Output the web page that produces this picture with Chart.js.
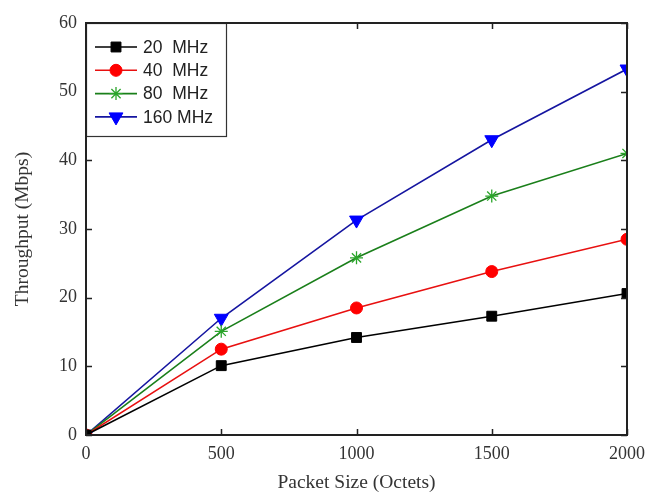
<!DOCTYPE html>
<html>
<head>
<meta charset="utf-8">
<script src="https://cdn.jsdelivr.net/npm/chart.js@4.4.1/dist/chart.umd.min.js"></script>
<style>
  html, body { margin: 0; padding: 0; background: #fff; }
  #wrap { width: 645px; height: 495px; }
</style>
</head>
<body>
<div id="wrap"><canvas id="chart" width="645" height="495"></canvas></div>
<script>
// Throughput vs packet size, per channel width

const packetSizes = [0, 500, 1000, 1500, 2000];
const mhz20 = [0, 10.1, 14.2, 17.3, 20.6];
const mhz40 = [0, 12.5, 18.5, 23.8, 28.5];
const mhz80 = [0, 15.1, 25.8, 34.8, 41.0];
const mhz160 = [0, 17.0, 31.3, 43.0, 53.3];
const seriesNames = ['20  MHz', '40  MHz', '80  MHz', '160 MHz'];
const xTicks = [0, 500, 1000, 1500, 2000];
const yTicks = [0, 10, 20, 30, 40, 50, 60];

const serif = '"Liberation Serif", "Times New Roman", serif';
const sans = '"Liberation Sans", Arial, sans-serif';

const styles = [
    { color: '#000000', point: 'rect', radius: 7, rotation: 0 },
    { color: '#ff0000', point: 'circle', radius: 6, rotation: 0 },
    { color: '#2aa52a', point: 'star', radius: 6.5, rotation: 0 },
    { color: '#0000ff', point: 'triangle', radius: 8, rotation: 180 }
];
const lineColors = ['#000000', '#e81010', '#1a7f1a', '#1515a0'];

function makeDataset(name, values, i) {
    const s = styles[i];
    return {
        label: name,
        data: packetSizes.map((x, j) => ({ x: x, y: values[j] })),
        borderColor: lineColors[i],
        backgroundColor: s.color,
        borderWidth: 1.6,
        pointStyle: s.point,
        pointRadius: s.radius,
        pointRotation: s.rotation,
        pointBackgroundColor: s.color,
        pointBorderColor: s.color,
        pointBorderWidth: i === 2 ? 1.3 : 1,
        tension: 0,
        clip: 0
    };
}

// frame, inward ticks on all four sides, and the boxed legend in the corner
const framePlugin = {
    id: 'frame',
    afterDatasetsDraw(chart) {
        const ctx = chart.ctx;
        const a = chart.chartArea;
        const xs = chart.scales.x, ys = chart.scales.y;
        ctx.save();
        ctx.strokeStyle = '#222';
        ctx.lineWidth = 1.5;
        const tl = 6;
        ctx.beginPath();
        xTicks.forEach(v => {
            const px = Math.round(xs.getPixelForValue(v)) + 0.5;
            ctx.moveTo(px, a.bottom); ctx.lineTo(px, a.bottom - tl);
            ctx.moveTo(px, a.top); ctx.lineTo(px, a.top + tl);
        });
        yTicks.forEach(v => {
            const py = Math.round(ys.getPixelForValue(v)) + 0.5;
            ctx.moveTo(a.left, py); ctx.lineTo(a.left + tl, py);
            ctx.moveTo(a.right, py); ctx.lineTo(a.right - tl, py);
        });
        ctx.stroke();

        // legend box
        const lx = a.left, ly = a.top, lw = 140, lh = 113;
        ctx.fillStyle = '#fff';
        ctx.fillRect(lx, ly, lw, lh);
        ctx.lineWidth = 1.2;
        ctx.strokeStyle = '#333';
        ctx.strokeRect(lx + 0.5, ly + 0.5, lw, lh);

        ctx.font = '17.5px ' + sans;
        ctx.textBaseline = 'middle';
        ctx.textAlign = 'left';
        seriesNames.forEach((name, i) => {
            const y = ly + 24 + i * 23.3;
            ctx.strokeStyle = lineColors[i];
            ctx.lineWidth = 1.6;
            ctx.beginPath();
            ctx.moveTo(lx + 9, y); ctx.lineTo(lx + 51, y);
            ctx.stroke();
            const s = styles[i];
            ctx.fillStyle = s.color;
            ctx.strokeStyle = s.color;
            ctx.lineWidth = i === 2 ? 1.3 : 1;
            Chart.helpers.drawPoint(ctx, {
                pointStyle: s.point, radius: s.radius, rotation: s.rotation, borderWidth: ctx.lineWidth
            }, lx + 30, y);
            ctx.fillStyle = '#222';
            ctx.fillText(name, lx + 57, y + 1);
        });

        // outer frame
        ctx.strokeStyle = '#222';
        ctx.lineWidth = 2;
        ctx.strokeRect(a.left, a.top, a.right - a.left, a.bottom - a.top);
        ctx.restore();
    }
};

const ctx = document.getElementById('chart').getContext('2d');
const chart = new Chart(ctx, {
    type: 'line',
    data: {
        datasets: [
            makeDataset(seriesNames[0], mhz20, 0),
            makeDataset(seriesNames[1], mhz40, 1),
            makeDataset(seriesNames[2], mhz80, 2),
            makeDataset(seriesNames[3], mhz160, 3)
        ]
    },
    options: {
        responsive: false,
        animation: false,
        layout: { padding: { top: 23, right: 18, left: 0, bottom: 0 } },
        plugins: {
            legend: { display: false },
            tooltip: { enabled: false }
        },
        scales: {
            x: {
                type: 'linear',
                min: 0, max: 2000,
                afterBuildTicks: s => { s.ticks = xTicks.map(v => ({ value: v })); },
                afterFit: s => { s.height = 60; s.paddingLeft = 0; s.paddingRight = 0; },
                grid: { display: false, drawTicks: false },
                border: { display: false },
                ticks: {
                    color: '#333', padding: 8, font: { family: serif, size: 18 }, maxRotation: 0,
                    callback: v => String(v)
                },
                title: {
                    display: true, text: 'Packet Size (Octets)', color: '#333',
                    font: { family: serif, size: 19.5 }, padding: { top: 14, bottom: 0 }
                }
            },
            y: {
                min: 0, max: 60,
                afterBuildTicks: s => { s.ticks = yTicks.map(v => ({ value: v })); },
                afterFit: s => { s.width = 86; },
                grid: { display: false, drawTicks: false },
                border: { display: false },
                ticks: { color: '#333', padding: 9, font: { family: serif, size: 18 } },
                title: {
                    display: true, text: 'Throughput (Mbps)', color: '#333',
                    font: { family: serif, size: 19.5 }, padding: { top: 11, bottom: 0 }
                }
            }
        }
    },
    plugins: [framePlugin]
});
</script>
</body>
</html>
